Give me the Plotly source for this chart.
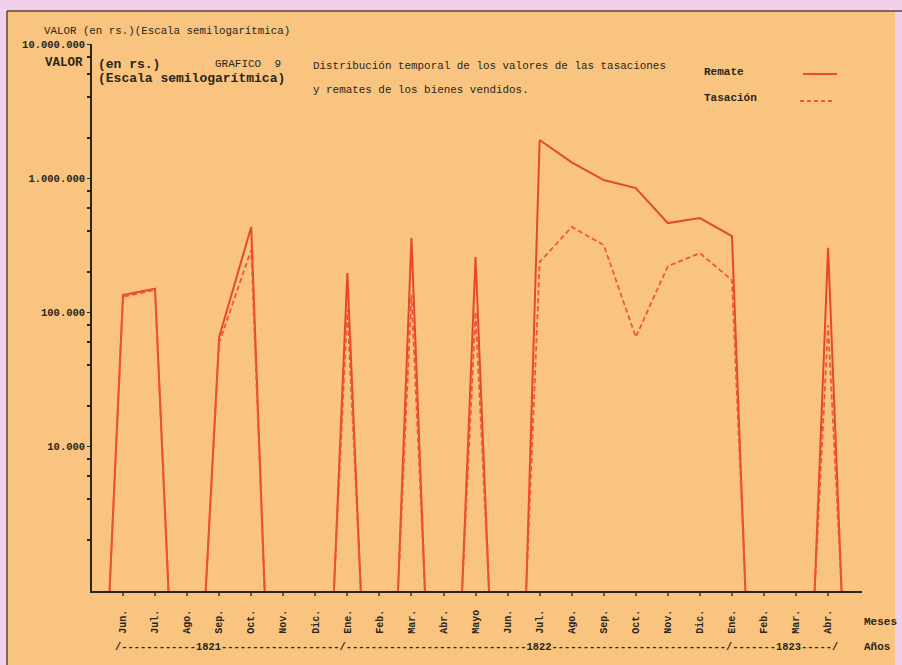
import plotly.graph_objects as go
import math

# ---------------- data ----------------
meses = ["Jun.", "Jul.", "Ago.", "Sep.", "Oct.", "Nov.", "Dic.", "Ene.", "Feb.", "Mar.",
         "Abr.", "Mayo", "Jun.", "Jul.", "Ago.", "Sep.", "Oct.", "Nov.", "Dic.", "Ene.",
         "Feb.", "Mar.", "Abr."]
remate = [134000, 149000, 0, 65000, 431000, 0, 0, 195000, 0, 357000,
          0, 257000, 0, 1920000, 1310000, 966000, 841000, 461000, 502000, 369000,
          0, 0, 301000]
tasacion = [130000, 146000, 0, 59000, 290000, 0, 0, 105000, 0, 135000,
            0, 100000, 0, 236000, 431000, 316000, 65000, 220000, 275000, 173000,
            0, 0, 80000]
y_tickvals = [10000, 100000, 1000000, 10000000]
y_ticktext = ["10.000", "100.000", "1.000.000", "10.000.000"]
años_texto = "/------------1821-------------------/-----------------------------1822----------------------------/-------1823-----/"

# ---------------- layout constants ----------------
W, H = 902, 665
L, R, T, B = 92, 40, 44, 74
PW, PH = W - L - R, H - T - B
FLOOR_LOG = 2.918
BASE = 10 ** FLOOR_LOG
OFF = 0.42

ORANGE = "#F8C47F"
PINK = "#F0D0EA"
DARK = "#2a241c"
RED = "#E8472F"
MONO = "Liberation Mono, Courier New, monospace"


def px(x):
    return (x - L) / PW


def py(y):
    return (H - B - y) / PH


def spike_path(vals):
    xs, ys = [], []
    n = len(vals)
    i = 0
    while i < n:
        if vals[i] > 0:
            j = i
            while j + 1 < n and vals[j + 1] > 0:
                j += 1
            xs += [i - OFF] + list(range(i, j + 1)) + [j + OFF, None]
            ys += [BASE] + vals[i:j + 1] + [BASE, None]
            i = j + 1
        else:
            i += 1
    return xs, ys


fig = go.Figure()
xr, yr = spike_path(remate)
fig.add_trace(go.Scatter(x=xr, y=yr, mode="lines", name="Remate",
                         line=dict(color=RED, width=2), connectgaps=False))
xt, yt = spike_path(tasacion)
fig.add_trace(go.Scatter(x=xt, y=yt, mode="lines", name="Tasación",
                         line=dict(color="#F0553A", width=1.8, dash="5px,3px"),
                         connectgaps=False))

minor_vals = []
for d in range(3, 7):
    for m in (2, 4, 6, 8):
        minor_vals.append(m * 10 ** d)

fig.update_layout(
    width=W, height=H,
    margin=dict(l=L, r=R, t=T, b=B),
    paper_bgcolor=PINK,
    plot_bgcolor="rgba(0,0,0,0)",
    showlegend=False,
    xaxis=dict(
        range=[(L - 123) / 32.05, (W - R - 123) / 32.05],
        tickmode="array", tickvals=list(range(len(meses))), ticktext=meses,
        tickangle=-90, showgrid=False, zeroline=False,
        showline=True, linecolor=DARK, linewidth=1.6,
        ticks="outside", ticklen=3, tickwidth=2, tickcolor="#6a5a48",
        ticklabelstandoff=10,
        tickfont=dict(family=MONO, size=10, color=DARK, weight="bold"),
    ),
    yaxis=dict(
        type="log", range=[FLOOR_LOG, 7.0],
        tickmode="array", tickvals=y_tickvals, ticktext=y_ticktext,
        showgrid=False, zeroline=False,
        showline=True, linecolor=DARK, linewidth=1.6,
        ticks="outside", ticklen=3, tickcolor=DARK,
        tickfont=dict(family=MONO, size=10.5, color=DARK, weight="bold"),
        minor=dict(tickmode="array", tickvals=minor_vals, ticks="outside",
                   ticklen=3, tickcolor=DARK, tickwidth=1.5, showgrid=False),
    ),
)

shapes = [
    dict(type="rect", xref="paper", yref="paper", x0=px(7), x1=px(895), y0=py(11), y1=py(H + 5),
         fillcolor=ORANGE, line=dict(width=0), layer="below"),
    dict(type="line", xref="paper", yref="paper", x0=px(7), x1=px(W + 5), y0=py(11), y1=py(11),
         line=dict(color="#5a4a40", width=1.5), layer="below"),
    dict(type="line", xref="paper", yref="paper", x0=px(7), x1=px(7), y0=py(11), y1=py(H + 5),
         line=dict(color="#5a4a40", width=1.5), layer="below"),
    dict(type="line", xref="paper", yref="paper", x0=px(803), x1=px(837), y0=py(74), y1=py(74),
         line=dict(color="#F04A28", width=2)),
    dict(type="line", xref="paper", yref="paper", x0=px(800), x1=px(832), y0=py(101), y1=py(101),
         line=dict(color="#F0553A", width=1.8, dash="4px,3px")),
]
fig.update_layout(shapes=shapes)


def note(text, x, y, size, bold=False, color=DARK):
    fig.add_annotation(text=text, xref="paper", yref="paper", x=px(x), y=py(y),
                       xanchor="left", yanchor="middle", showarrow=False,
                       font=dict(family=MONO, size=size, color=color,
                                 weight="bold" if bold else "normal"))


note("VALOR (en rs.)(Escala semilogarítmica)", 42, 31, 10.8)
note("VALOR", 43, 63, 12.5, bold=True)
note("(en rs.)", 96, 64, 13, bold=True)
note("(Escala semilogarítmica)", 96, 78, 13, bold=True)
note("GRAFICO  9", 213, 64, 11)
note("Distribución temporal de los valores de las tasaciones", 311, 66, 10.9)
note("y remates de los bienes vendidos.", 311, 90, 10.9)
note("Remate", 702, 72, 11, bold=True)
note("Tasación", 702, 98, 11, bold=True)
note("Meses", 862, 622, 11, bold=True)
note("Años", 862, 647, 11, bold=True)
note(años_texto, 113, 647, 10.4, bold=True)

fig.write_html("out.html",
               config={"displayModeBar": False},
               post_script="document.body.style.margin='0';"
                           "document.body.style.background='" + PINK + "';")
